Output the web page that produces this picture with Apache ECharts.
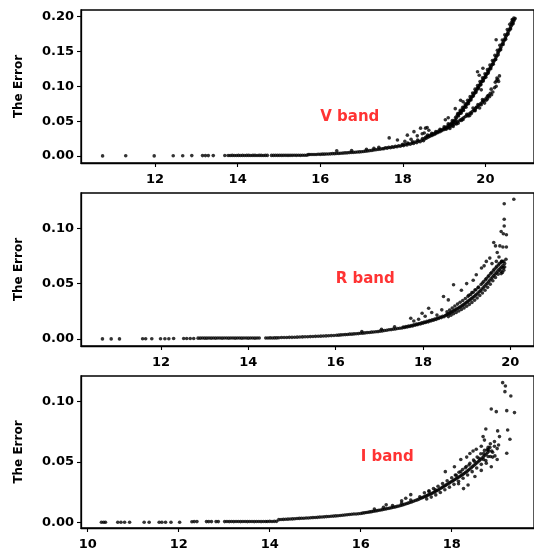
<!DOCTYPE html>
<html>
<head>
<meta charset="utf-8">
<script src="https://cdn.jsdelivr.net/npm/echarts@6/dist/echarts.min.js"></script>
<style>html,body{margin:0;padding:0;background:#fff;}#c{width:534px;height:555px;}</style>
</head>
<body>
<div id="c"></div>
<script>
// ---- tick labels ----
const xTicksV = [12, 14, 16, 18, 20];
const xTicksR = [12, 14, 16, 18, 20];
const xTicksI = [10, 12, 14, 16, 18];
const yTicksV = [0, 0.05, 0.10, 0.15, 0.20];
const yTicksR = [0, 0.05, 0.10];
const yTicksI = [0, 0.05, 0.10];
const bandNames = ['V band', 'R band', 'I band'];
const yLabel = 'The Error';

// ---- V band: [magnitude, error] ----
const vPoints = [
[10.73,.0002],[11.29,.0003],[11.98,.0002],[12.44,.0004],[12.67,.0004],[12.89,.0006],[13.15,.0006],[13.22,.0006],[13.29,.0006],[13.41,.0006],[13.69,.0007],
[13.77,.0008],[13.82,.0008],[13.87,.0009],[13.92,.0008],[13.97,.0008],[14.02,.0009],[14.07,.0008],[14.12,.0009],[14.17,.0008],[14.22,.0009],[14.27,.0009],[14.32,.0008],[14.37,.0009],[14.42,.0009],[14.47,.0008],[14.52,.0009],[14.57,.0009],[14.62,.0008],[14.67,.0009],[14.72,.0009],
[14.82,.0009],[14.87,.0009],[14.92,.001],[14.97,.0009],[15.02,.001],[15.07,.0009],[15.12,.001],[15.17,.001],[15.22,.0009],[15.27,.001],[15.32,.001],[15.37,.0011],[15.42,.001],[15.47,.0011],[15.52,.001],[15.57,.0011],[15.62,.0011],[15.67,.0012],
[15.71,.0020],[15.75,.0022],[15.80,.0021],[15.85,.0023],[15.90,.0023],[15.95,.0025],[16.00,.0024],[16.05,.0027],[16.10,.0027],[16.15,.0029],[16.20,.0030],[16.25,.0031],[16.30,.0034],[16.35,.0034],[16.40,.0037],[16.45,.0038],[16.50,.0041],[16.55,.0042],[16.60,.0045],[16.65,.0046],[16.70,.0049],[16.75,.0050],[16.80,.0053],[16.85,.0054],[16.90,.0057],[16.95,.0059],[17.00,.0062],[17.05,.0065],[17.10,.0070],[17.15,.0072],[17.20,.0078],[17.25,.0081],[17.30,.0087],[17.35,.0090],[17.40,.0096],[17.45,.0099],[17.50,.0105],
[16.40,.0075],[16.76,.0080],[17.12,.0098],[17.30,.0110],[17.42,.0125],
[17.54,.0106],[17.58,.0118],[17.62,.0113],[17.66,.0125],[17.70,.0119],[17.74,.0131],[17.78,.0126],[17.82,.0139],[17.86,.0133],[17.90,.0147],[17.94,.0141],[17.98,.0156],[18.02,.0150],[18.06,.0166],[18.10,.0160],[18.14,.0176],[18.18,.0170],[18.22,.0188],[18.26,.0181],[18.30,.0200],[18.34,.0193],[18.38,.0214],[18.42,.0206],[18.46,.0228],[18.50,.0219],
[18.00,.0168],[18.12,.0185],[18.24,.0205],[18.36,.0228],[18.48,.0252],[18.60,.0300],[18.70,.0325],[18.80,.0350],[18.90,.0382],[19.00,.0418],[19.10,.0462],[19.20,.0510],[19.28,.0555],
[17.67,.026],[17.87,.023],[18.05,.021],[18.20,.024],[18.35,.029],[18.43,.040],[18.47,.032],[18.27,.035],[18.11,.030],[18.55,.040],[18.59,.041],[18.63,.037],[18.52,.033],
[18.53,.0245],[18.55,.0270],[18.57,.0255],[18.59,.0280],[18.62,.0272],[18.64,.0295],[18.66,.0285],[18.69,.0305],[18.71,.0296],[18.73,.0318],[18.76,.0310],[18.78,.0330],[18.80,.0322],[18.83,.0345],[18.85,.0336],[18.87,.0358],[18.90,.0350],[18.92,.0372],[18.94,.0364],[18.97,.0385],[18.99,.0378],[19.01,.0400],[19.03,.0392],[19.05,.0416],[19.08,.0410],[19.10,.0440],[19.12,.0432],[19.14,.0456],[19.16,.0448],[19.18,.0475],[19.20,.0468],[19.22,.0495],[19.24,.0488],[19.26,.0518],[19.28,.0510],[19.30,.0545],
[19.32,.0585],[19.34,.0590],[19.36,.0612],[19.38,.0612],[19.40,.0640],[19.42,.0638],[19.44,.0668],[19.46,.0665],[19.48,.0697],[19.50,.0705],[19.52,.0722],[19.54,.0738],[19.56,.0750],[19.58,.0772],[19.60,.0782],[19.62,.0805],[19.64,.0815],[19.66,.0840],[19.68,.0850],[19.70,.0875],[19.72,.0892],[19.74,.0905],[19.76,.0928],[19.78,.0940],[19.80,.0965],[19.82,.0982],[19.84,.0995],[19.86,.1020],[19.88,.1032],[19.90,.1058],[19.92,.1075],[19.94,.1088],[19.96,.1112],[19.98,.1125],[20.00,.1148],[20.02,.1168],[20.04,.1182],[20.06,.1208],[20.08,.1222],[20.10,.1250],[20.12,.1268],[20.14,.1285],[20.16,.1310],[20.18,.1328],[20.20,.1355],[20.22,.1375],[20.24,.1392],[20.26,.1420],[20.28,.1440],[20.30,.1478],[20.32,.1495],[20.34,.1520],[20.36,.1542],[20.38,.1565],[20.40,.1598],[20.42,.1618],[20.44,.1645],[20.46,.1665],[20.48,.1692],[20.50,.1718],[20.52,.1740],[20.54,.1765],[20.56,.1790],[20.58,.1812],[20.60,.1838],[20.62,.1862],[20.64,.1885],[20.66,.1910],[20.68,.1935],[20.70,.1955],[20.72,.1975],[20.69,.1980],[20.66,.1950],[20.63,.1915],
[19.35,.0575],[19.41,.0615],[19.47,.0655],[19.53,.0700],[19.59,.0752],[19.65,.0805],[19.71,.0862],[19.77,.0912],[19.83,.0968],[19.89,.1022],[19.95,.1078],[20.01,.1132],[20.07,.1190],[20.13,.1252],[20.19,.1318],[20.25,.1385],[20.31,.1455],[20.37,.1525],[20.43,.1600],[20.49,.1675],[20.55,.1750],[20.61,.1825],[20.67,.1900],
[19.33,.0610],[19.39,.0655],[19.45,.0700],[19.51,.0748],[19.57,.0800],[19.63,.0852],[19.69,.0905],[19.75,.0960],[19.81,.1012],[19.87,.1068],[19.93,.1122],[19.99,.1180],[20.05,.1240],[20.11,.1305],[20.17,.1372],[20.23,.1445],[20.29,.1518],[20.35,.1590],[20.41,.1665],[20.47,.1740],[20.53,.1815],[20.59,.1890],[20.65,.1960],
[19.05,.0385],[19.10,.0405],[19.15,.0420],[19.20,.0440],[19.24,.0455],[19.28,.0472],[19.32,.0488],[19.36,.0502],[19.40,.0520],[19.44,.0535],[19.48,.0552],[19.52,.0568],[19.56,.0585],[19.60,.0602],[19.64,.0620],[19.68,.0640],[19.72,.0660],[19.76,.0680],[19.80,.0702],[19.84,.0725],[19.88,.0748],[19.92,.0770],[19.96,.0795],[20.00,.0818],[20.04,.0845],[20.08,.0870],[20.12,.0900],
[19.14,.0395],[19.22,.0425],[19.34,.0470],[19.46,.0525],[19.58,.0575],[19.66,.0610],[19.74,.0655],[19.78,.0700],[19.90,.0735],[19.94,.0790],[20.02,.0800],[20.06,.0865],
[19.30,.0460],[19.42,.0510],[19.55,.0600],[19.62,.0580],[19.70,.0690],[19.75,.0650],[19.82,.0740],[19.86,.0690],[19.93,.0810],[19.98,.0760],[20.05,.0820],[20.10,.0850],[20.15,.0880],
[20.24,.1060],[20.27,.1080],[20.30,.1100],[20.32,.1070],[20.28,.1120],[20.34,.1150],[20.26,.1000],[20.22,.0980],[20.18,.0920],[20.14,.0960],
[20.26,.167],[19.94,.126],[19.81,.121],[19.85,.116],[19.27,.068],[19.03,.052],[19.10,.055],[19.40,.080],[19.46,.078],[19.90,.095]
];

// ---- R band ----
const rPoints = [
[10.66,.0001],[10.86,.0001],[11.05,.0001],[11.58,.0002],[11.65,.0002],[11.79,.0002],[11.99,.0003],[12.09,.0003],[12.18,.0003],[12.29,.0004],[12.52,.0004],[12.59,.0004],[12.67,.0005],[12.75,.0005],
[12.85,.0008],[12.90,.0008],[12.95,.0009],[13.00,.0008],[13.05,.0008],[13.10,.0009],[13.15,.0008],[13.20,.0009],[13.25,.0008],[13.30,.0009],[13.35,.0009],[13.40,.0008],[13.45,.0009],[13.50,.0009],[13.55,.0008],[13.60,.0009],[13.65,.0009],[13.70,.0008],[13.75,.0009],[13.80,.0009],[13.85,.0008],[13.90,.0009],[13.95,.0009],[14.00,.0008],[14.05,.0009],[14.10,.0009],[14.15,.0008],[14.20,.0009],[14.25,.0009],
[14.40,.0009],[14.45,.0009],[14.50,.001],[14.55,.0009],[14.60,.001],[14.65,.001],
[14.70,.0012],[14.76,.0013],[14.82,.0013],[14.88,.0014],[14.94,.0015],[15.00,.0015],[15.06,.0016],[15.12,.0017],[15.18,.0018],[15.24,.0019],[15.30,.0020],[15.36,.0021],[15.42,.0022],[15.48,.0023],[15.54,.0024],[15.60,.0025],[15.66,.0026],[15.72,.0027],[15.78,.0028],[15.84,.0030],[15.90,.0031],[15.96,.0032],
[16.02,.0034],[16.07,.0035],[16.12,.0037],[16.17,.0039],[16.22,.0040],[16.27,.0041],[16.32,.0044],[16.37,.0044],[16.42,.0046],[16.47,.0048],[16.52,.0049],[16.57,.0052],[16.62,.0053],[16.67,.0055],[16.72,.0058],[16.77,.0059],[16.82,.0062],[16.87,.0063],[16.92,.0066],[16.97,.0067],[17.02,.0071],[17.07,.0073],[17.12,.0077],[17.17,.0079],[17.22,.0083],[17.27,.0085],[17.32,.0089],[17.37,.0091],[17.42,.0095],[17.47,.0097],
[16.60,.0068],[17.05,.0088],[17.35,.0110],
[17.52,.0100],[17.55,.0108],[17.58,.0104],[17.61,.0112],[17.64,.0108],[17.67,.0117],[17.70,.0113],[17.73,.0122],[17.76,.0118],[17.79,.0128],[17.82,.0124],[17.85,.0134],[17.88,.0130],[17.91,.0140],[17.94,.0136],[17.97,.0146],[18.00,.0143],[18.03,.0152],[18.06,.0149],[18.09,.0159],[18.12,.0155],[18.15,.0166],[18.18,.0162],[18.21,.0173],[18.24,.0169],[18.27,.0181],[18.30,.0177],[18.33,.0189],[18.36,.0185],[18.39,.0197],[18.42,.0193],[18.45,.0206],[18.48,.0201],
[17.72,.0187],[17.79,.0163],[17.90,.0178],[17.98,.0232],[18.13,.0278],[18.20,.0239],[18.32,.0217],[18.43,.0263],[18.47,.0383],[18.58,.0353],[18.05,.0205],
[18.51,.0212],[18.54,.0218],[18.57,.0225],[18.60,.0231],[18.63,.0238],[18.66,.0245],[18.69,.0252],[18.72,.0259],[18.75,.0266],[18.78,.0273],[18.81,.0280],[18.84,.0287],[18.87,.0294],[18.90,.0301],[18.93,.0310],[18.96,.0319],[18.99,.0328],[19.02,.0337],[19.05,.0346],[19.08,.0355],[19.11,.0364],[19.14,.0374],[19.17,.0384],[19.20,.0394],[19.23,.0404],[19.26,.0415],[19.29,.0426],[19.32,.0438],[19.35,.0450],[19.38,.0463],[19.41,.0476],[19.44,.0489],[19.47,.0502],[19.50,.0516],[19.53,.0530],[19.56,.0544],[19.59,.0558],[19.62,.0572],[19.65,.0585],[19.68,.0598],[19.71,.0612],[19.74,.0625],[19.77,.0638],[19.80,.0650],[19.83,.0662],
[18.55,.0245],[18.61,.0262],[18.67,.0280],[18.73,.0298],[18.79,.0315],[18.85,.0332],[18.91,.0348],[18.97,.0365],[19.03,.0385],[19.09,.0402],[19.15,.0422],[19.21,.0445],[19.27,.0468],[19.33,.0492],[19.39,.0518],[19.45,.0545],[19.51,.0572],[19.57,.0600],[19.63,.0628],[19.69,.0655],[19.75,.0680],[19.81,.0702],
[19.05,.0395],[19.12,.0418],[19.19,.0442],[19.26,.0462],[19.36,.0505],[19.43,.0535],[19.49,.0562],[19.55,.0590],[19.61,.0615],[19.67,.0642],[19.73,.0668],[19.79,.0690],[19.85,.0700],[19.87,.0680],[19.85,.0620],[19.82,.0600],
[18.58,.0202],[18.64,.0215],[18.70,.0228],[18.76,.0240],[18.82,.0253],[18.88,.0266],[18.94,.0280],[19.00,.0296],[19.06,.0312],[19.12,.0330],[19.18,.0350],[19.24,.0370],[19.30,.0392],[19.36,.0415],[19.42,.0440],[19.48,.0466],[19.54,.0495],[19.60,.0525],[19.66,.0555],[19.72,.0585],[19.78,.0612],[19.84,.0640],
[18.70,.049],[18.88,.044],[19.00,.050],[19.15,.053],[19.22,.058],[19.34,.064],[19.45,.070],[19.53,.073],[19.58,.068],[19.40,.066],[19.62,.087],[19.66,.084],[19.76,.084],[19.83,.083],[19.91,.083],[19.79,.097],[19.84,.095],[19.91,.094],[19.86,.102],[19.86,.108],[19.86,.122],[20.08,.126],[19.90,.072],[19.79,.059],[19.70,.078],[19.74,.074],[19.87,.065],[19.80,.070],[19.68,.070]
];

// ---- I band ----
const iPoints = [
[10.30,.0002],[10.35,.0002],[10.39,.0002],[10.66,.0002],[10.73,.0002],[10.81,.0002],[10.92,.0002],[11.24,.0002],[11.35,.0002],[11.57,.0002],[11.63,.0002],[11.71,.0002],[11.83,.0002],[12.02,.0002],[12.29,.0006],[12.34,.0008],[12.40,.0008],[12.61,.0008],[12.66,.0008],[12.72,.0008],[12.82,.0008],[12.87,.0008],
[13.01,.0008],[13.06,.0009],[13.11,.0008],[13.16,.0009],[13.21,.0008],[13.26,.0009],[13.31,.0009],[13.36,.0008],[13.41,.0009],[13.46,.0009],[13.51,.0008],[13.56,.0009],[13.61,.0009],[13.66,.0008],[13.71,.0009],[13.76,.0009],[13.81,.0008],[13.86,.0009],[13.91,.0009],
[13.95,.0009],[14.00,.001],[14.05,.0009],[14.10,.001],[14.15,.001],
[14.20,.0024],[14.25,.0025],[14.30,.0026],[14.35,.0027],[14.40,.0028],[14.45,.0029],[14.50,.0030],[14.55,.0031],[14.60,.0033],[14.65,.0034],[14.70,.0035],[14.75,.0036],[14.80,.0037],[14.85,.0038],[14.90,.0039],[14.95,.0041],[15.00,.0042],[15.05,.0043],[15.10,.0045],[15.15,.0046],[15.20,.0047],[15.25,.0049],[15.30,.0050],[15.35,.0052],[15.40,.0053],[15.45,.0055],[15.50,.0056],[15.55,.0058],[15.60,.0060],[15.65,.0062],[15.70,.0064],[15.75,.0066],[15.80,.0068],[15.85,.0070],[15.90,.0071],[15.95,.0073],[16.00,.0075],
[16.04,.0078],[16.08,.0080],[16.12,.0083],[16.16,.0085],[16.20,.0088],[16.24,.0090],[16.28,.0093],[16.32,.0095],[16.36,.0098],[16.40,.0101],[16.44,.0104],[16.48,.0107],[16.52,.0110],[16.56,.0113],[16.60,.0116],[16.64,.0119],[16.68,.0122],[16.72,.0126],[16.76,.0129],[16.80,.0133],[16.84,.0137],[16.88,.0141],[16.92,.0145],[16.96,.0150],[17.00,.0155],[17.04,.0160],[17.08,.0165],[17.12,.0170],[17.16,.0176],[17.20,.0182],[17.24,.0187],[17.28,.0193],
[16.30,.0112],[16.50,.0126],[16.70,.0140],[16.90,.0160],[17.10,.0186],[17.30,.0212],
[17.32,.0200],[17.35,.0205],[17.38,.0210],[17.41,.0215],[17.44,.0220],[17.47,.0225],[17.50,.0230],[17.53,.0235],[17.56,.0240],[17.59,.0246],[17.62,.0252],[17.65,.0258],[17.68,.0264],[17.71,.0271],[17.74,.0278],[17.77,.0285],[17.80,.0292],[17.83,.0299],[17.86,.0306],[17.89,.0313],[17.92,.0320],[17.95,.0327],[17.98,.0334],[18.01,.0341],[18.04,.0348],[18.07,.0355],[18.10,.0362],[18.13,.0369],[18.16,.0376],[18.19,.0383],[18.22,.0391],[18.25,.0399],[18.28,.0407],[18.31,.0415],[18.34,.0424],[18.37,.0433],[18.40,.0442],[18.43,.0452],[18.46,.0462],[18.49,.0472],[18.52,.0482],[18.55,.0492],[18.58,.0502],[18.61,.0512],[18.64,.0522],[18.67,.0533],[18.70,.0544],[18.73,.0555],[18.76,.0566],[18.79,.0578],[18.82,.0590],
[17.40,.0245],[17.50,.0262],[17.60,.0280],[17.70,.0300],[17.80,.0322],[17.90,.0345],[18.00,.0370],[18.08,.0392],[18.16,.0415],[18.24,.0438],[18.32,.0462],[18.40,.0488],[18.48,.0515],[18.56,.0540],[18.64,.0568],[18.72,.0595],[18.80,.0620],
[18.10,.0390],[18.20,.0420],[18.30,.0452],[18.38,.0475],[18.50,.0505],[18.60,.0530],[18.70,.0570],[18.78,.0600],[18.84,.0620],[18.88,.0590],[18.80,.0545],[18.70,.0520],
[17.45,.0195],[17.55,.0210],[17.65,.0228],[17.75,.0248],[17.85,.0270],[17.95,.0292],[18.05,.0315],[18.15,.0340],[18.25,.0365],[18.35,.0392],[18.45,.0420],[18.55,.0450],[18.65,.0480],[18.75,.0512],[18.85,.0545],
[19.12,.1154],[19.18,.1127],[19.17,.1080],[19.30,.1044],[18.87,.0937],[18.98,.0915],[19.21,.0923],[19.38,.0907],[18.75,.0772],[19.01,.0756],[19.23,.0764],[19.28,.0687],[19.21,.0572],[18.69,.0709],[18.94,.0668],[19.03,.0640],[19.00,.0610],[18.94,.0630],[19.05,.0709],
[17.86,.042],[18.06,.046],[18.20,.052],[18.33,.054],[18.40,.057],[18.47,.059],[18.54,.0605],[18.65,.063],[18.72,.068],[17.10,.023],[16.99,.020],[16.56,.0146],[16.90,.018],[17.50,.0256],[17.64,.027],[18.15,.032],[18.36,.031],[18.51,.038],[18.65,.043],[18.76,.049],[18.87,.046],[18.90,.054],[18.26,.028],[18.85,.065],[18.80,.060],[18.90,.058],[18.95,.055],[19.00,.052]
];

const chart = echarts.init(document.getElementById('c'), null, {renderer: 'canvas'});
const FONT = 'DejaVu Sans';
const panels = [
  {pts: vPoints, xt: xTicksV, yt: yTicksV, top: 10, h: 153, xmin: 10.207, xmax: 21.177, ymin: -0.0100, ymax: 0.2096},
  {pts: rPoints, xt: xTicksR, yt: yTicksR, top: 193, h: 153, xmin: 10.169, xmax: 20.542, ymin: -0.0063, ymax: 0.1317},
  {pts: iPoints, xt: xTicksI, yt: yTicksI, top: 376, h: 152, xmin: 9.852, xmax: 19.809, ymin: -0.0045, ymax: 0.1209}
];
const grids = [], xAxes = [], yAxes = [], series = [];
panels.forEach((p, k) => {
  grids.push({left: 81, top: p.top, width: 459, height: p.h, show: true, borderColor: '#000', borderWidth: 1.3, backgroundColor: 'transparent'});
  xAxes.push({
    type: 'value', gridIndex: k, min: p.xmin, max: p.xmax,
    axisLine: {show: true, onZero: false, lineStyle: {color: '#000', width: 1.3}},
    axisTick: {show: true, length: 4, customValues: p.xt, lineStyle: {color: '#000', width: 1.1}},
    axisLabel: {customValues: p.xt, margin: 10, color: '#000', fontFamily: FONT, fontWeight: 'bold', fontSize: 13, formatter: v => String(Math.round(v))},
    splitLine: {show: false}
  });
  yAxes.push({
    type: 'value', gridIndex: k, min: p.ymin, max: p.ymax,
    name: yLabel, nameLocation: 'middle', nameGap: 56, nameRotate: 90,
    nameTextStyle: {color: '#000', fontFamily: FONT, fontWeight: 'bold', fontSize: 12},
    axisLine: {show: true, onZero: false, lineStyle: {color: '#000', width: 1.3}},
    axisTick: {show: true, length: 4, customValues: p.yt, lineStyle: {color: '#000', width: 1.1}},
    axisLabel: {customValues: p.yt, margin: 7, color: '#000', fontFamily: FONT, fontWeight: 'bold', fontSize: 13, formatter: v => v.toFixed(2)},
    splitLine: {show: false}
  });
  series.push({
    type: 'scatter', xAxisIndex: k, yAxisIndex: k, data: p.pts,
    symbol: 'circle', symbolSize: 3.6, itemStyle: {color: '#000'}, silent: true, large: false
  });
  series.push({
    type: 'scatter', xAxisIndex: k, yAxisIndex: k, data: [[16, 0.05]], symbolSize: 0, silent: true,
    label: {show: true, formatter: bandNames[k], position: [0, 0], offset: [0, 3], align: 'left', verticalAlign: 'bottom',
      color: '#ff0000', fontFamily: FONT, fontWeight: 'bold', fontSize: 15}
  });
});
chart.setOption({animation: false, backgroundColor: '#fff', grid: grids, xAxis: xAxes, yAxis: yAxes, series: series});
</script>
</body>
</html>
